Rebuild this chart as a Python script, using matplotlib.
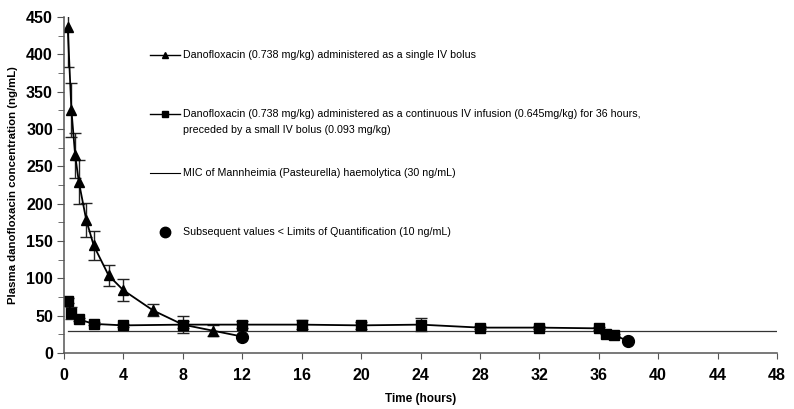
import matplotlib
matplotlib.use("Agg")
import matplotlib.pyplot as plt
from matplotlib.ticker import MultipleLocator

plt.rcParams['font.family'] = ['Liberation Sans', 'DejaVu Sans']

# single IV bolus (triangles)
bolus_t = [0.25, 0.5, 0.75, 1.0, 1.5, 2, 3, 4, 6, 8, 10]
bolus_c = [436, 325, 265, 229, 178, 144, 104, 84, 57, 38, 30]
bolus_err = [53, 36, 30, 29, 23, 20, 14, 15, 8, 11, 7]
bolus_loq_t = 12
bolus_loq_c = 22

# continuous infusion (squares)
inf_t = [0.25, 0.5, 1, 2, 4, 8, 12, 16, 20, 24, 28, 32, 36, 36.5, 37]
inf_c = [70, 54, 45, 39, 37, 38, 38, 38, 37, 38, 34, 34, 33, 26, 24]
inf_err = [3, 8, 2, 2, 2, 5, 5, 6, 5, 9, 2, 2, 2, 1, 1]
inf_loq_t = 38
inf_loq_c = 16

mic_t = [0.3, 48]
mic_c = [30, 30]

legend_labels = [
    "Danofloxacin (0.738 mg/kg) administered as a single IV bolus",
    "Danofloxacin (0.738 mg/kg) administered as a continuous IV infusion (0.645mg/kg) for 36 hours,\npreceded by a small IV bolus (0.093 mg/kg)",
    "MIC of Mannheimia (Pasteurella) haemolytica (30 ng/mL)",
    "Subsequent values < Limits of Quantification (10 ng/mL)",
]

fig = plt.figure(figsize=(7.94, 4.09), dpi=100)
ax = fig.add_axes([64 / 794, 1 - 353 / 409, (777 - 64) / 794, (353 - 17) / 409])

# MIC line
ax.plot(mic_t, mic_c, color='#333333', lw=0.9)

# bolus curve
ax.errorbar(bolus_t, bolus_c, yerr=bolus_err, fmt='none', ecolor='#222222',
            elinewidth=1.0, capsize=4, capthick=1.0)
ax.plot(bolus_t + [bolus_loq_t], bolus_c + [bolus_loq_c], color='black', lw=1.3)
ax.plot(bolus_t, bolus_c, ls='none', marker='^', ms=6.5, color='black')

# infusion curve
ax.errorbar(inf_t, inf_c, yerr=inf_err, fmt='none', ecolor='#222222',
            elinewidth=1.0, capsize=4, capthick=1.0)
ax.plot(inf_t + [inf_loq_t], inf_c + [inf_loq_c], color='black', lw=1.3)
ax.plot(inf_t, inf_c, ls='none', marker='s', ms=6.5, color='black')

# LOQ points
ax.plot([bolus_loq_t, inf_loq_t], [bolus_loq_c, inf_loq_c], ls='none',
        marker='o', ms=8.5, color='black')

ax.set_xlim(0, 48)
ax.set_ylim(0, 450)
ax.xaxis.set_major_locator(MultipleLocator(4))
ax.yaxis.set_major_locator(MultipleLocator(50))
ax.yaxis.set_minor_locator(MultipleLocator(25))
for s in ['top', 'right']:
    ax.spines[s].set_visible(False)
for s in ['left', 'bottom']:
    ax.spines[s].set_color('#555555')
    ax.spines[s].set_linewidth(1.1)
ax.tick_params(axis='both', which='both', direction='out', color='#555555')
ax.tick_params(axis='y', which='major', length=5, pad=3)
ax.tick_params(axis='y', which='minor', length=4)
ax.tick_params(axis='x', which='major', length=4, pad=7)
for lab in ax.get_xticklabels() + ax.get_yticklabels():
    lab.set_fontweight('bold')
    lab.set_fontsize(11.5)

ax.set_xlabel('Time (hours)', fontsize=8.5, fontweight='bold', labelpad=7)
ax.set_ylabel('Plasma danofloxacin concentration (ng/mL)', fontsize=8.2,
              fontweight='bold', labelpad=6)


# legend drawn by hand, positions in figure pixels
def px(x, y):
    return ax.transData.inverted().transform(fig.transFigure.transform((x / 794, 1 - y / 409)))


rows = [(55, '^'), (114, 's'), (173, None), (232, 'o')]
for (ypix, mk), text in zip(rows, legend_labels):
    x0, y0 = px(150, ypix)
    x1, _ = px(180, ypix)
    xt, _ = px(183, ypix)
    if mk == 'o':
        xm, _ = px(165, ypix)
        ax.plot([xm], [y0], ls='none', marker='o', ms=7.5, color='black')
    else:
        ax.plot([x0, x1], [y0, y0], color='black', lw=1.0 if mk else 0.8)
        if mk:
            ax.plot([(x0 + x1) / 2], [y0], ls='none', marker=mk, ms=5, color='black')
    for i, line in enumerate(text.split('\n')):
        ax.text(xt, px(0, ypix + 16 * i)[1], line, fontsize=7.7,
                va='center', ha='left')

fig.savefig('out.png', dpi=100)
